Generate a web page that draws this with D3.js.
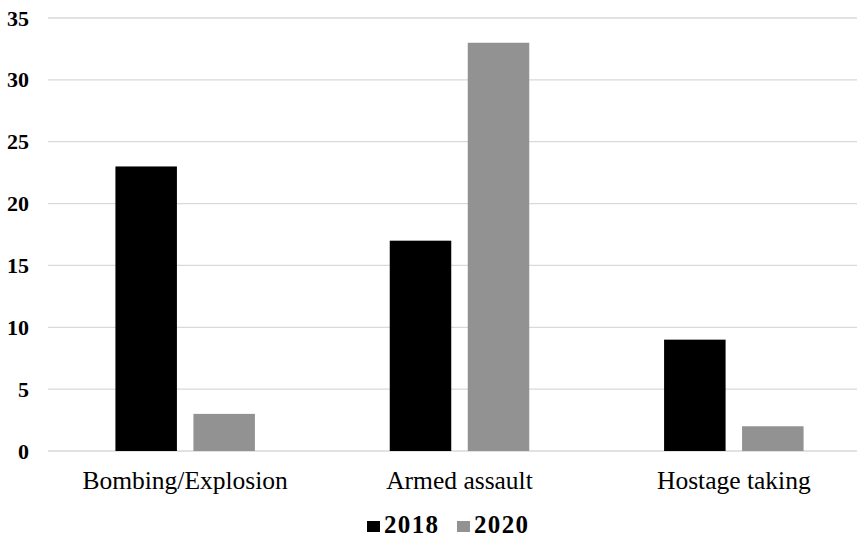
<!DOCTYPE html>
<html>
<head>
<meta charset="utf-8">
<script src="https://cdn.jsdelivr.net/npm/d3@7"></script>
<style>
  body { margin: 0; background: #fff; }
  svg { display: block; font-family: "Liberation Serif", "Times New Roman", serif; }
</style>
</head>
<body>
<div id="chart"></div>
<script>
// Attack types by year
const categories = ["Bombing/Explosion", "Armed assault", "Hostage taking"];
const series = ["2018", "2020"];
const values2018 = [23, 17, 9];
const values2020 = [3, 33, 2];
const yTicks = [0, 5, 10, 15, 20, 25, 30, 35];
const colors = ["#000000", "#929292"];

function drawChart() {
    const width = 857, height = 539;
    const plotLeft = 48, plotRight = 871, plotTop = 18, plotBottom = 451;

    const svg = d3.select("#chart")
        .append("svg")
        .attr("width", width)
        .attr("height", height);

    const x0 = d3.scaleBand()
        .domain(categories)
        .range([plotLeft, plotRight]);

    const groupWidth = 139.5;
    const x1 = d3.scaleBand()
        .domain(series)
        .range([-groupWidth / 2, groupWidth / 2])
        .paddingInner(0.2115);

    const y = d3.scaleLinear()
        .domain([0, 35])
        .range([plotBottom, plotTop]);

    // Gridlines
    svg.append("g")
        .selectAll("line")
        .data(yTicks)
        .enter()
        .append("line")
        .attr("x1", plotLeft)
        .attr("x2", width)
        .attr("y1", d => y(d))
        .attr("y2", d => y(d))
        .attr("stroke", "#d9d9d9")
        .attr("stroke-width", 1.3);

    // Y axis labels
    const yAxis = svg.append("g")
        .attr("transform", "translate(29,0)")
        .call(d3.axisLeft(y).tickValues(yTicks).tickSize(0).tickPadding(0));
    yAxis.select(".domain").remove();
    yAxis.selectAll("text")
        .attr("font-family", "'Liberation Serif', 'Times New Roman', serif")
        .attr("font-size", "22px")
        .attr("font-weight", "bold")
        .attr("fill", "#000");

    // Bars
    const rows = categories.map((c, i) => ({ cat: c, vals: [values2018[i], values2020[i]] }));
    const groups = svg.append("g")
        .selectAll("g")
        .data(rows)
        .enter()
        .append("g")
        .attr("transform", d => `translate(${x0(d.cat) + x0.bandwidth() / 2},0)`);

    groups.selectAll("rect")
        .data(d => d.vals.map((v, j) => ({ key: series[j], value: v, color: colors[j] })))
        .enter()
        .append("rect")
        .attr("x", d => x1(d.key))
        .attr("y", d => y(d.value))
        .attr("width", x1.bandwidth())
        .attr("height", d => y(0) - y(d.value))
        .attr("fill", d => d.color);

    // Category labels
    svg.append("g")
        .selectAll("text")
        .data(categories)
        .enter()
        .append("text")
        .attr("x", d => x0(d) + x0.bandwidth() / 2)
        .attr("y", 489)
        .attr("text-anchor", "middle")
        .style("font-size", "25.5px")
        .text(d => d);

    // Legend
    const legendX = [367, 457];
    const legend = svg.append("g")
        .selectAll("g")
        .data(series)
        .enter()
        .append("g")
        .attr("transform", (d, i) => `translate(${legendX[i]},0)`);

    legend.append("rect")
        .attr("x", 0)
        .attr("y", 521)
        .attr("width", 13)
        .attr("height", 11)
        .attr("fill", (d, i) => colors[i]);

    legend.append("text")
        .attr("x", 17)
        .attr("y", 533)
        .attr("textLength", 54)
        .style("font-size", "25px")
        .style("font-weight", "bold")
        .text(d => d);
}

document.addEventListener("DOMContentLoaded", drawChart);
</script>
</body>
</html>
